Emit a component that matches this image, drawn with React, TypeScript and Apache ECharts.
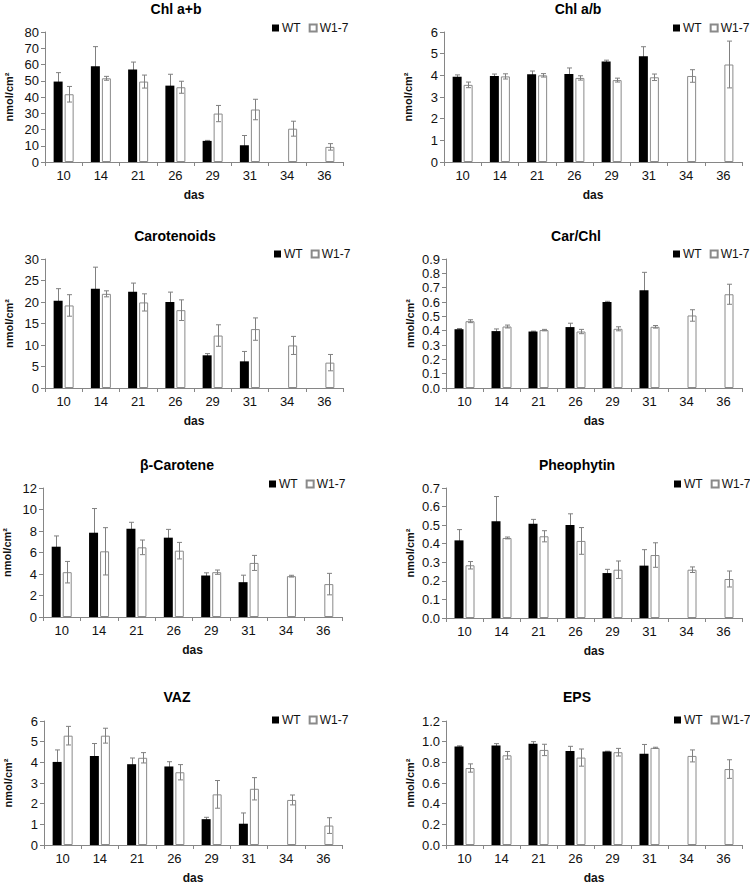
import React, { useEffect, useRef } from "react";
import * as echarts from "echarts";

const categories = ["10", "14", "21", "26", "29", "31", "34", "36"];
const seriesNames = ["WT", "W1-7"];
const yAxisName = "nmol/cm²";
const xAxisName = "das";

const titles = ["Chl a+b", "Chl a/b", "Carotenoids", "Car/Chl", "β-Carotene", "Pheophytin", "VAZ", "EPS"];

// Chl a+b
const chlAbWT = [49.5, 59, 57, 47, 13, 10.3, null, null];
const chlAbWTErr = [5.5, 12, 4.5, 7, 0.3, 6, null, null];
const chlAbMut = [41.7, 51.5, 49.5, 46, 29.8, 32.3, 20.5, 9.3];
const chlAbMutErr = [4.8, 1.2, 4, 3.7, 5, 6.3, 4.6, 2];

// Chl a/b
const chlRatioWT = [3.94, 3.97, 4.05, 4.06, 4.64, 4.88, null, null];
const chlRatioWTErr = [0.08, 0.09, 0.15, 0.28, 0.06, 0.44, null, null];
const chlRatioMut = [3.56, 3.95, 4.0, 3.88, 3.78, 3.91, 3.97, 4.5];
const chlRatioMutErr = [0.13, 0.12, 0.08, 0.1, 0.09, 0.15, 0.29, 1.08];

// Carotenoids
const carWT = [20.3, 23.1, 22.4, 20.0, 7.6, 6.2, null, null];
const carWTErr = [2.8, 5, 2.0, 2.3, 0.4, 2.3, null, null];
const carMut = [19.2, 21.9, 19.9, 18.1, 12.2, 13.7, 9.9, 5.9];
const carMutErr = [2.5, 0.7, 2.0, 2.4, 2.5, 2.6, 2.1, 1.9];

// Car/Chl
const carChlWT = [0.41, 0.397, 0.394, 0.425, 0.6, 0.682, null, null];
const carChlWTErr = [0.005, 0.015, 0.003, 0.027, 0.005, 0.125, null, null];
const carChlMut = [0.466, 0.429, 0.404, 0.394, 0.413, 0.427, 0.506, 0.654];
const carChlMutErr = [0.01, 0.01, 0.005, 0.015, 0.014, 0.009, 0.04, 0.07];

// beta-Carotene
const betaWT = [6.54, 7.84, 8.21, 7.38, 3.86, 3.24, null, null];
const betaWTErr = [1.0, 2.25, 0.6, 0.77, 0.25, 0.65, null, null];
const betaMut = [4.17, 6.11, 6.48, 6.17, 4.17, 5.03, 3.8, 3.06];
const betaMutErr = [1.0, 2.2, 0.68, 0.77, 0.2, 0.7, 0.08, 1.0];

// Pheophytin
const pheoWT = [0.418, 0.521, 0.508, 0.501, 0.242, 0.282, null, null];
const pheoWTErr = [0.058, 0.133, 0.023, 0.06, 0.02, 0.086, null, null];
const pheoMut = [0.284, 0.431, 0.44, 0.415, 0.26, 0.339, 0.26, 0.21];
const pheoMutErr = [0.02, 0.005, 0.03, 0.072, 0.047, 0.066, 0.015, 0.043];

// VAZ
const vazWT = [4.02, 4.31, 3.91, 3.8, 1.25, 1.03, null, null];
const vazWTErr = [0.58, 0.6, 0.3, 0.23, 0.09, 0.52, null, null];
const vazMut = [5.29, 5.29, 4.22, 3.52, 2.45, 2.72, 2.18, 0.94];
const vazMutErr = [0.45, 0.36, 0.25, 0.37, 0.67, 0.54, 0.24, 0.38];

// EPS
const epsWT = [0.954, 0.963, 0.98, 0.91, 0.905, 0.883, null, null];
const epsWTErr = [0.006, 0.018, 0.02, 0.045, 0.003, 0.09, null, null];
const epsMut = [0.745, 0.868, 0.92, 0.846, 0.898, 0.94, 0.862, 0.735];
const epsMutErr = [0.04, 0.037, 0.055, 0.083, 0.037, 0.006, 0.058, 0.09];

const yMax = [80, 6, 30, 0.9, 12, 0.7, 6, 1.2];
const yInterval = [10, 1, 5, 0.1, 2, 0.1, 1, 0.2];
const yDecimals = [0, 0, 0, 1, 0, 1, 0, 1];

const panelData = [
  [chlAbWT, chlAbWTErr, chlAbMut, chlAbMutErr],
  [chlRatioWT, chlRatioWTErr, chlRatioMut, chlRatioMutErr],
  [carWT, carWTErr, carMut, carMutErr],
  [carChlWT, carChlWTErr, carChlMut, carChlMutErr],
  [betaWT, betaWTErr, betaMut, betaMutErr],
  [pheoWT, pheoWTErr, pheoMut, pheoMutErr],
  [vazWT, vazWTErr, vazMut, vazMutErr],
  [epsWT, epsWTErr, epsMut, epsMutErr],
];

// layout
const grids = [
  { left: 45, top: 32, width: 298, height: 130 },
  { left: 444, top: 32, width: 298, height: 130 },
  { left: 45, top: 259, width: 298, height: 129 },
  { left: 446, top: 259, width: 296, height: 129 },
  { left: 42, top: 488, width: 300, height: 129 },
  { left: 446, top: 488, width: 296, height: 130 },
  { left: 44, top: 721, width: 298, height: 130 },
  { left: 446, top: 721, width: 296, height: 130 },
];
const titlePos = [
  [176, 9], [578, 9], [175, 236], [576, 236], [177, 465], [577, 465], [177, 697], [577, 697],
];
const legendPos = [
  [272, 22], [673, 22], [274, 248], [673, 248], [269, 478], [674, 478], [272, 714], [674, 714],
];

const FONT = "'Liberation Sans', Arial, sans-serif";
const AXIS_COLOR = "#868686";
const ERR_COLOR = "#808080";
const BAR_W = 9;
const GAP = 2;

function errRender(offset: number) {
  return (params: any, api: any) => {
    const idx = api.value(0);
    const v = api.value(1);
    const e = api.value(2);
    if (v == null || isNaN(v)) return null;
    const top = api.coord([idx, v + e]);
    const bot = api.coord([idx, Math.max(v - e, 0)]);
    const x = Math.round(top[0] + offset) + 0.5;
    const cap = 2.5;
    const style = { stroke: ERR_COLOR, lineWidth: 1 };
    return {
      type: "group",
      children: [
        { type: "line", shape: { x1: x, y1: top[1], x2: x, y2: bot[1] }, style },
        { type: "line", shape: { x1: x - cap, y1: top[1], x2: x + cap, y2: top[1] }, style },
        { type: "line", shape: { x1: x - cap, y1: bot[1], x2: x + cap, y2: bot[1] }, style },
      ],
    };
  };
}

export default function App() {
  const ref = useRef<HTMLDivElement>(null);
  useEffect(() => {
    if (!ref.current) return;
    const chart = echarts.init(ref.current, undefined, { renderer: "svg" });
    const off = (BAR_W + GAP) / 2;
    const series: any[] = [];
    panelData.forEach((pd, i) => {
      const [wt, wtErr, mut, mutErr] = pd as any[];
      series.push({
        name: seriesNames[0],
        type: "bar",
        xAxisIndex: i,
        yAxisIndex: i,
        data: wt.map((v: any) => (v == null ? "-" : v)),
        barWidth: BAR_W,
        barGap: `${(GAP / BAR_W) * 100}%`,
        itemStyle: { color: "#000000" },
        z: 3,
      });
      series.push({
        name: seriesNames[1],
        type: "bar",
        xAxisIndex: i,
        yAxisIndex: i,
        data: mut.map((v: any) => (v == null ? "-" : v)),
        barWidth: BAR_W,
        itemStyle: { color: "#ffffff", borderColor: "#8a8a8a", borderWidth: 1 },
        z: 3,
      });
      series.push({
        name: "WT err " + i,
        type: "custom",
        xAxisIndex: i,
        yAxisIndex: i,
        renderItem: errRender(-off),
        encode: { x: 0, y: 1 },
        data: wt.map((v: any, k: number) => (v == null ? [k, NaN, 0] : [k, v, wtErr[k]])),
        z: 2,
        silent: true,
      });
      series.push({
        name: "W1-7 err " + i,
        type: "custom",
        xAxisIndex: i,
        yAxisIndex: i,
        renderItem: errRender(off),
        encode: { x: 0, y: 1 },
        data: mut.map((v: any, k: number) => (v == null ? [k, NaN, 0] : [k, v, mutErr[k]])),
        z: 4,
        silent: true,
      });
    });

    const option: any = {
      animation: false,
      backgroundColor: "#ffffff",
      textStyle: { fontFamily: FONT },
      grid: grids.map((g) => ({ ...g, containLabel: false })),
      xAxis: grids.map((_, i) => ({
        type: "category",
        gridIndex: i,
        data: categories,
        axisLine: { lineStyle: { color: AXIS_COLOR, width: 1 } },
        axisTick: { show: true, length: 4, lineStyle: { color: AXIS_COLOR } },
        axisLabel: { color: "#111", fontSize: 13, margin: 7, fontFamily: FONT },
        name: xAxisName,
        nameLocation: "middle",
        nameGap: 27,
        nameTextStyle: { color: "#111", fontSize: 12, fontWeight: "bold", fontFamily: FONT },
        splitLine: { show: false },
      })),
      yAxis: grids.map((_, i) => ({
        type: "value",
        gridIndex: i,
        min: 0,
        max: yMax[i],
        interval: yInterval[i],
        axisLine: { show: true, lineStyle: { color: AXIS_COLOR, width: 1 } },
        axisTick: { show: true, length: 4, lineStyle: { color: AXIS_COLOR } },
        splitLine: { show: false },
        axisLabel: {
          color: "#111",
          fontSize: 13,
          margin: 6,
          fontFamily: FONT,
          formatter: (v: number) => v.toFixed(yDecimals[i]),
        },
        name: yAxisName,
        nameLocation: "middle",
        nameRotate: 90,
        nameGap: 31,
        nameTextStyle: { color: "#111", fontSize: 11, fontWeight: "bold", fontFamily: FONT },
      })),
      legend: legendPos.map(([x, y]) => ({
        left: x,
        top: y,
        width: 120,
        orient: "horizontal",
        data: seriesNames,
        icon: "rect",
        itemWidth: 7,
        itemHeight: 7,
        itemGap: 8,
        padding: 0,
        selectedMode: false,
        textStyle: { fontSize: 12, color: "#111", fontFamily: FONT, padding: [0, 0, 0, -2] },
      })),
      graphic: titles.map((t, i) => ({
        type: "text",
        x: titlePos[i][0],
        y: titlePos[i][1],
        style: {
          text: t,
          fill: "#000",
          font: `bold 14px ${FONT}`,
          textAlign: "center",
          textVerticalAlign: "middle",
        },
      })),
      series,
    };
    chart.setOption(option);
    return () => chart.dispose();
  }, []);
  return (
    <div
      ref={ref}
      style={{ position: "absolute", left: 0, top: 0, width: 750, height: 885, background: "#fff" }}
    />
  );
}
